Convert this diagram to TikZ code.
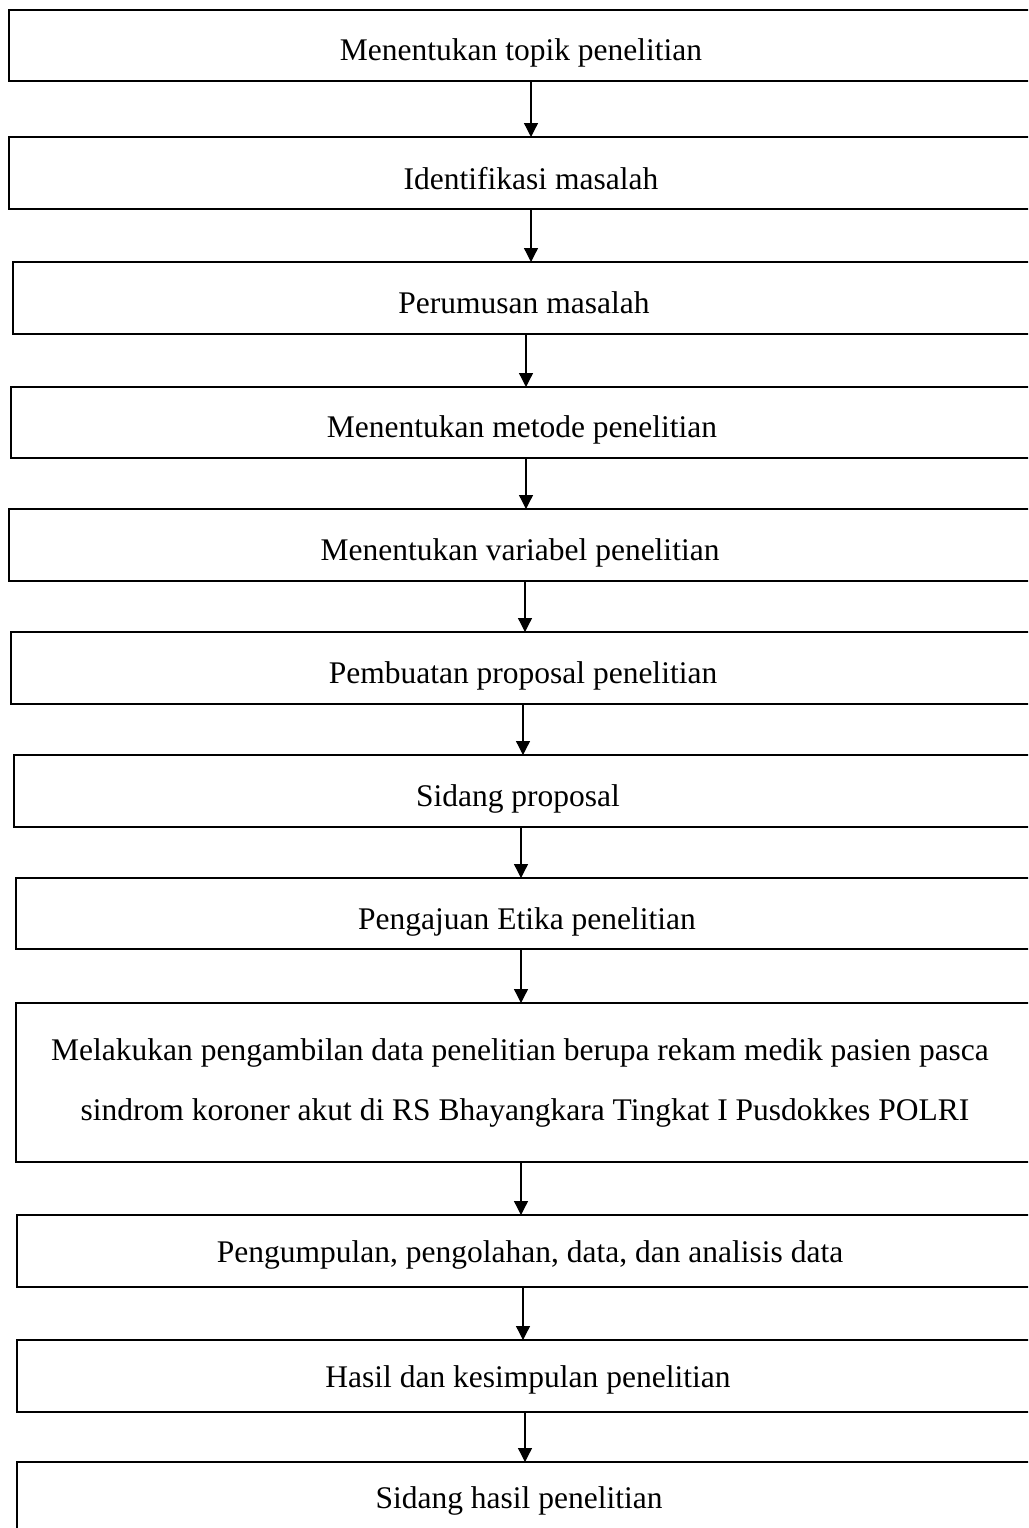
\documentclass[tikz,border=0pt]{standalone}
\usepackage{fontspec}
\setmainfont{Liberation Serif}
\usetikzlibrary{arrows.meta}

\tikzset{
  stepbox/.style={draw=black, line width=2.3pt, rectangle, anchor=north west,
    inner sep=0pt, outer sep=0pt, minimum width=1046pt-#1},
  lbl/.style={anchor=base, inner sep=0pt, font=\fontsize{31.5}{38}\selectfont},
  flow/.style={draw=black, line width=1.3pt, -{Triangle[length=14pt,width=14pt]}},
}

\begin{document}
\begin{tikzpicture}[x=1pt, y=-1pt]
  \fill[white] (0,0) rectangle (1028,1528);
  \clip (0,0) rectangle (1028,1528);

  % process boxes (left edge, top, height)
  \node[stepbox=9pt,  minimum height=71pt]  (b1)  at (9,10)    {};
  \node[stepbox=9pt,  minimum height=72pt]  (b2)  at (9,137)   {};
  \node[stepbox=13pt, minimum height=72pt]  (b3)  at (13,262)  {};
  \node[stepbox=11pt, minimum height=71pt]  (b4)  at (11,387)  {};
  \node[stepbox=9pt,  minimum height=72pt]  (b5)  at (9,509)   {};
  \node[stepbox=11pt, minimum height=72pt]  (b6)  at (11,632)  {};
  \node[stepbox=14pt, minimum height=72pt]  (b7)  at (14,755)  {};
  \node[stepbox=16pt, minimum height=71pt]  (b8)  at (16,878)  {};
  \node[stepbox=16pt, minimum height=159pt] (b9)  at (16,1003) {};
  \node[stepbox=17pt, minimum height=72pt]  (b10) at (17,1215) {};
  \node[stepbox=17pt, minimum height=72pt]  (b11) at (17,1340) {};
  \node[stepbox=17pt, minimum height=80pt]  (b12) at (17,1462) {};

  % step labels
  \node[lbl] (t1)  at (521,61)   {Menentukan topik penelitian};
  \node[lbl] (t2)  at (531,189)  {Identifikasi masalah};
  \node[lbl] (t3)  at (524,313)  {Perumusan masalah};
  \node[lbl] (t4)  at (522,437)  {Menentukan metode penelitian};
  \node[lbl] (t5)  at (520,560)  {Menentukan variabel penelitian};
  \node[lbl] (t6)  at (523,683)  {Pembuatan proposal penelitian};
  \node[lbl] (t7)  at (518,806)  {Sidang proposal};
  \node[lbl] (t8)  at (527,929)  {Pengajuan Etika penelitian};
  \node[lbl] (t9a) at (520,1060) {Melakukan pengambilan data penelitian berupa rekam medik pasien pasca};
  \node[lbl] (t9b) at (525,1120) {sindrom koroner akut di RS Bhayangkara Tingkat I Pusdokkes POLRI};
  \node[lbl] (t10) at (530,1262) {Pengumpulan, pengolahan, data, dan analisis data};
  \node[lbl] (t11) at (528,1387) {Hasil dan kesimpulan penelitian};
  \node[lbl] (t12) at (519,1508) {Sidang hasil penelitian};

  % connectors
  \draw[flow] (b1.south  -| 531,0) -- (b2.north  -| 531,0);
  \draw[flow] (b2.south  -| 531,0) -- (b3.north  -| 531,0);
  \draw[flow] (b3.south  -| 526,0) -- (b4.north  -| 526,0);
  \draw[flow] (b4.south  -| 526,0) -- (b5.north  -| 526,0);
  \draw[flow] (b5.south  -| 525,0) -- (b6.north  -| 525,0);
  \draw[flow] (b6.south  -| 523,0) -- (b7.north  -| 523,0);
  \draw[flow] (b7.south  -| 521,0) -- (b8.north  -| 521,0);
  \draw[flow] (b8.south  -| 521,0) -- (b9.north  -| 521,0);
  \draw[flow] (b9.south  -| 521,0) -- (b10.north -| 521,0);
  \draw[flow] (b10.south -| 523,0) -- (b11.north -| 523,0);
  \draw[flow] (b11.south -| 525,0) -- (b12.north -| 525,0);
\end{tikzpicture}
\end{document}
